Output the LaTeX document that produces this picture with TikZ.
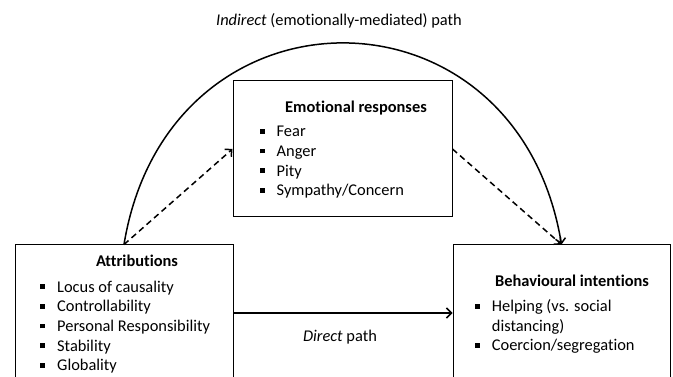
\documentclass[tikz,border=0pt]{standalone}
\usepackage{fontspec}
\setmainfont{Carlito}[Ligatures={NoCommon}]
\usetikzlibrary{arrows.meta}
\newcommand{\sqbul}{\makebox[17pt][l]{\rule[3pt]{4.8pt}{4.8pt}}}
\tikzset{
  box/.style={draw, line width=1pt, inner sep=0pt},
  conn/.style={line width=1.5pt, -{Straight Barb[length=5pt,width=10pt]}},
  dashconn/.style={conn, dash pattern=on 6pt off 4pt},
  txt/.style={anchor=base west, inner sep=0pt, font=\fontsize{16.4}{19.7}\selectfont},
  ttl/.style={anchor=base, inner sep=0pt, font=\fontsize{16.4}{19.7}\selectfont\bfseries},
  lbl/.style={anchor=base, inner sep=0pt, font=\fontsize{16.4}{19.7}\selectfont}
}
\begin{document}
\begin{tikzpicture}[x=1pt,y=-1pt]
\useasboundingbox (0,0) rectangle (673,377);
\clip (0,0) rectangle (673,377);
\fill[white] (0,0) rectangle (673,377);
% boxes
\node[box, minimum width=218pt, minimum height=136pt] (attr) at (124,313) {};
\node[box, minimum width=219pt, minimum height=136pt] (emo) at (342.5,149) {};
\node[box, minimum width=217pt, minimum height=136pt] (beh) at (561.5,313) {};
% titles
\node[lbl] (indirect) at (339,26) {\textit{Indirect} (emotionally-mediated) path};
\node[lbl] (direct) at (340,341.7) {\textit{Direct} path};
% attributions
\node[ttl] (attrT) at (137,267) {Attributions};
\node[txt] (a1) at (40,292) {\sqbul Locus of causality};
\node[txt] (a2) at (40,311.7) {\sqbul Controllability};
\node[txt] (a3) at (40,331.4) {\sqbul Personal Responsibility};
\node[txt] (a4) at (40,351.1) {\sqbul Stability};
\node[txt] (a5) at (40,370.8) {\sqbul Globality};
% emotional responses
\node[ttl] (emoT) at (356,112.7) {Emotional responses};
\node[txt] (e1) at (259.5,136.7) {\sqbul Fear};
\node[txt] (e2) at (259.5,156.4) {\sqbul Anger};
\node[txt] (e3) at (259.5,176.1) {\sqbul Pity};
\node[txt] (e4) at (259.5,195.8) {\sqbul Sympathy/Concern};
% behavioural intentions
\node[ttl] (behT) at (572,286.7) {Behavioural intentions};
\node[txt] (b1) at (474.7,311.7) {\sqbul Helping (vs. social};
\node[txt] (b1b) at (491.7,331.2) {distancing)};
\node[txt] (b2) at (474.7,350.7) {\sqbul Coercion/segregation};
% connectors
\coordinate (c1) at (168,-24);
\coordinate (c2) at (517,-24);
\draw[conn] (attr.north) .. controls (c1) and (c2) .. (beh.north);
\draw[dashconn] (attr.north) -- (emo.west);
\draw[dashconn] (emo.east) -- (beh.north);
\draw[conn] (attr.east) -- (beh.west);
\end{tikzpicture}
\end{document}
